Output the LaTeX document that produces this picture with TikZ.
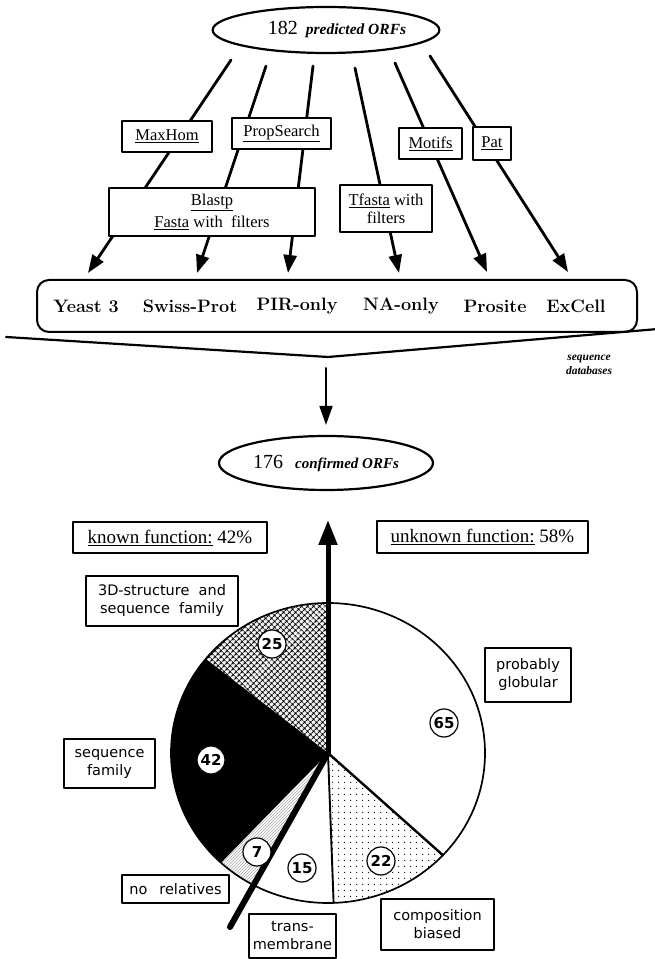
\documentclass[tikz,border=0pt]{standalone}
\usepackage{fontspec}
\setsansfont{DejaVu Sans}
\newfontfamily\scanserif{Liberation Serif}
\usetikzlibrary{arrows.meta,patterns,patterns.meta,shapes.geometric,positioning}

\tikzdeclarepattern{
  name=piecross,
  type=uncolored,
  bottom left={(0pt,0pt)},
  top right={(4pt,4pt)},
  tile size={(4pt,4pt)},
  tile transformation={rotate=45},
  code={
    \draw[line width=1.2pt] (0pt,2pt) -- (4pt,2pt);
    \draw[line width=1.2pt] (2pt,0pt) -- (2pt,4pt);
  }
}
\tikzdeclarepattern{
  name=piedots,
  type=uncolored,
  bottom left={(0pt,0pt)},
  top right={(6pt,6pt)},
  tile size={(6pt,6pt)},
  code={
    \fill (3pt,3pt) circle[radius=0.75pt];
  }
}

\begin{document}
\begin{tikzpicture}[line cap=round,line join=round,x=1pt,y=1pt,
    orfs/.style={ellipse,draw,line width=2.2pt,inner sep=0pt},
    tool/.style={draw,line width=1.6pt,fill=white,inner sep=0pt,align=center,font=\scanserif\fontsize{16.5}{18}\selectfont},
    dbname/.style={font=\bfseries\fontsize{18}{20}\selectfont},
    flow/.style={line width=2.8pt,-{Triangle[length=18pt,width=13pt]}},
    part/.style={draw,line width=1.2pt,fill=white,inner sep=0pt,align=center,font=\sffamily\fontsize{14.5}{18}\selectfont},
    count/.style={circle,draw,line width=1.2pt,fill=white,inner sep=0pt,minimum size=28pt,font=\sffamily\bfseries\fontsize{15}{15}\selectfont}]

    \useasboundingbox (0,0) rectangle (655,959);

    % search tools
    \node[orfs,minimum width=224pt,minimum height=46pt,font=\scanserif] (pred) at (326,929)
        {\hspace*{22pt}{\fontsize{20}{20}\selectfont 182}\hspace{8pt}{\bfseries\itshape\fontsize{15.5}{16}\selectfont predicted ORFs}};

    \coordinate (s1) at (231,899);  \coordinate (e1) at (88,686);
    \coordinate (s2) at (266,893);  \coordinate (e2) at (197,686);
    \coordinate (s3) at (313,893);  \coordinate (e3) at (288,686);
    \coordinate (s4) at (355,891);  \coordinate (e4) at (399,686);
    \coordinate (s5) at (395,896);  \coordinate (e5) at (487,687);
    \coordinate (s6) at (430,903);  \coordinate (e6) at (568,687);
    \draw[flow] (s1) -- (e1);
    \draw[flow] (s2) -- (e2);
    \draw[flow] (s3) -- (e3);
    \draw[flow] (s4) -- (e4);
    \draw[flow] (s5) -- (e5);
    \draw[flow] (s6) -- (e6);

    \node[tool,minimum width=90pt,minimum height=31pt] (maxhom) at (167,822.5) {\underline{MaxHom}};
    \node[tool,minimum width=99pt,minimum height=31pt] (propsearch) at (281.5,825.5) {\underline{PropSearch}};
    \node[tool,minimum width=63pt,minimum height=31pt] (motifs) at (430.5,815.5) {\underline{Motifs}};
    \node[tool,minimum width=38pt,minimum height=33pt] (pat) at (492,815.5) {\underline{Pat}};
    \node[tool,minimum width=206pt,minimum height=48pt] (blastp) at (212,747)
        {\underline{Blastp}\\[4pt]\underline{Fasta} with\ \ filters};
    \node[tool,minimum width=92pt,minimum height=47pt] (tfasta) at (386,750.5)
        {\underline{Tfasta} with\\filters};

    % databases
    \node[draw,rounded corners=12pt,line width=2pt,minimum width=600pt,minimum height=52pt] (db) at (337,653) {};
    \node[dbname] (yeast) at (86,653) {Yeast 3};
    \node[dbname] (swiss) at (190,653) {Swiss-Prot};
    \node[dbname] (pir) at (297,653) {PIR-only};
    \node[dbname] (na) at (401,653) {NA-only};
    \node[dbname] (prosite) at (495,653) {Prosite};
    \node[dbname] (excell) at (576,653) {ExCell};

    \coordinate (bl) at (6,622);
    \coordinate (bm) at (328,602);
    \coordinate (br) at (658,630);
    \draw[line width=2.2pt] (bl) -- (bm) -- (br);
    \node[font=\scanserif\bfseries\itshape\fontsize{11.5}{14}\selectfont,align=center] (seqdb) at (589,594) {sequence\\databases};

    \node[orfs,minimum width=214pt,minimum height=54pt,font=\scanserif] (conf) at (326,496)
        {{\fontsize{20}{20}\selectfont 176}\hspace{12pt}{\bfseries\itshape\fontsize{15}{16}\selectfont confirmed ORFs}};
    \coordinate (a0) at (326,591);
    \draw[line width=2pt,-{Triangle[length=19pt,width=13pt]},shorten >=10pt] (a0) -- (conf.north);

    \node[tool,minimum width=194pt,minimum height=31pt,font=\scanserif\fontsize{19}{20}\selectfont] (known) at (170,421.5) {\underline{known function:} 42\%};
    \node[tool,minimum width=211pt,minimum height=32pt,font=\scanserif\fontsize{19}{20}\selectfont] (unknown) at (482.5,422) {\underline{unknown function:} 58\%};

    % pie of the 176 ORFs
    \coordinate (pc) at (328,206);
    \coordinate (tip) at (328,439);
    \coordinate (tmend) at (230,32);
    \begin{scope}[shift={(pc)}]
        \fill[pattern=piedots] (0,0) -- (-42.95:157 and 150) arc[start angle=-42.95,end angle=-87.95,x radius=157,y radius=150] -- cycle;
        \fill[pattern=north east lines,pattern color=gray!70] (0,0) -- (-118.64:157 and 150) arc[start angle=-118.64,end angle=-132.95,x radius=157,y radius=150] -- cycle;
        \fill[black] (0,0) -- (-132.95:157 and 150) arc[start angle=-132.95,end angle=-218.86,x radius=157,y radius=150] -- cycle;
        \fill[pattern=piecross] (0,0) -- (-218.86:157 and 150) arc[start angle=-218.86,end angle=-270,x radius=157,y radius=150] -- cycle;
        \draw[line width=1.7pt] (0,0) ellipse[x radius=157,y radius=150];
        \draw[line width=2.4pt] (0,0) -- (-42.95:157 and 150);
        \draw[line width=1.9pt] (0,0) -- (-87.95:157 and 150);
    \end{scope}
    \draw[line width=6pt] (pc) -- (tmend);
    \draw[line width=5pt,-{Triangle[length=25pt,width=18pt]}] (pc) -- (tip);

    \node[count] (n25) at (272,315) {25};
    \node[count] (n42) at (211,199) {42};
    \node[count] (n65) at (444,236) {65};
    \node[count] (n22) at (381,98) {22};
    \node[count] (n15) at (302,91) {15};
    \node[count] (n7) at (257,107) {7};

    \node[part,minimum width=152pt,minimum height=50pt] (struct) at (162,358) {3D-structure\ \ and\\sequence\ \ family};
    \node[part,minimum width=86pt,minimum height=54pt] (glob) at (528,284) {probably\\globular};
    \node[part,minimum width=91pt,minimum height=49pt] (seqfam) at (109.5,195.5) {sequence\\family};
    \node[part,minimum width=107pt,minimum height=28pt] (norel) at (175.5,70) {no\hspace{12pt}relatives};
    \node[part,minimum width=87pt,minimum height=44pt] (trans) at (292.5,23) {trans-\\membrane};
    \node[part,minimum width=113pt,minimum height=51pt] (comp) at (437.5,34.5) {composition\\biased};
\end{tikzpicture}
\end{document}
